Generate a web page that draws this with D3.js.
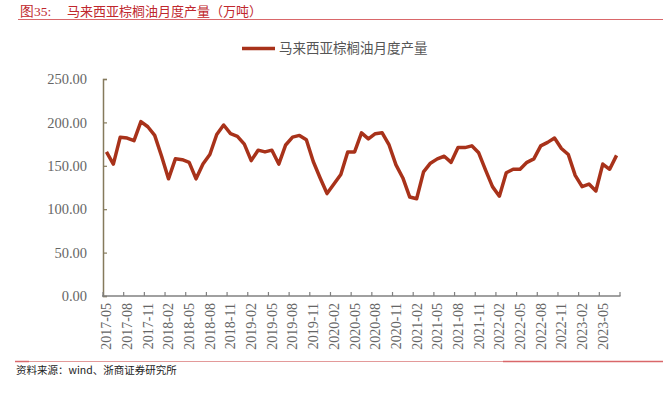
<!DOCTYPE html>
<html><head><meta charset="utf-8">
<script src="https://cdn.jsdelivr.net/npm/d3@7"></script>
<style>
body{margin:0;background:#fff;}
svg{display:block;}
</style></head>
<body>
<svg id="chart" width="663" height="394"></svg>
<script>
const months = [];
(function(){ let y=2017, m=5; for(let i=0;i<75;i++){ months.push(y+"-"+String(m).padStart(2,"0")); m++; if(m>12){m=1;y++;} } })();
const categories = months;
const seriesName = "马来西亚棕榈油月度产量";
const production = [166,152,183,182,179,201,195,185,161,135,158,157,154,135,152,163,186,197,187,
184,175,156,168,166,168,152,174,183,185,180,155,136,118,129,140,166,166,188,
181,187,188,174,151,136,114,112,143,153,158,161,154,171,171,173,165,145,126,
115,142,146,146,154,158,173,177,182,170,163,139,126,129,121,152,146,162];
const yTicks = [0,50,100,150,200,250];
const xLabelEvery = 3;

const svg = d3.select("#chart");
const serif = "'Liberation Serif','Times New Roman',serif";
const cjk = "'Noto Sans CJK SC',sans-serif";

// title
const title = svg.append("text").attr("x",20).attr("y",15.5).attr("fill","#c0272d").style("font-size","13.5px");
title.append("tspan").style("font-family",serif).text("图35:");
title.append("tspan").attr("x",67).style("font-family",cjk).style("font-size","13px").text("马来西亚棕榈油月度产量（万吨）");
svg.append("line").attr("x1",18).attr("x2",663).attr("y1",19.5).attr("y2",19.5).attr("stroke","#d9676a").attr("stroke-width",1);

// footer
svg.append("line").attr("x1",15).attr("x2",663).attr("y1",361.5).attr("y2",361.5).attr("stroke","#e39a9a").attr("stroke-width",1);
svg.append("line").attr("x1",15).attr("x2",29).attr("y1",361.5).attr("y2",361.5).attr("stroke","#d9676a").attr("stroke-width",1.5);
svg.append("line").attr("x1",503).attr("x2",663).attr("y1",361.5).attr("y2",361.5).attr("stroke","#d9676a").attr("stroke-width",1.5);
svg.append("text").attr("x",16).attr("y",374).attr("fill","#222").style("font-family",cjk).style("font-size","10.5px").text("资料来源：wind、浙商证券研究所");

// scales
const x = d3.scaleBand().domain(categories).range([103,620]).padding(0);
const y = d3.scaleLinear().domain([0,250]).range([296,79]);

// y axis
const yAxis = d3.axisLeft(y).tickValues(yTicks).tickFormat(d3.format(".2f")).tickSize(-4).tickPadding(16);
const gy = svg.append("g").attr("transform","translate(103,0)").call(yAxis);
gy.select(".domain").attr("stroke","#857a5c").attr("stroke-width",1.5);
gy.selectAll(".tick line").attr("stroke","#857a5c").attr("stroke-width",1.2);
gy.selectAll(".tick text").attr("fill","#666").style("font-family",serif).style("font-size","14.5px");

// x axis labels
const labelVals = categories.filter((d,i)=>i%xLabelEvery===0);
const xAxis = d3.axisBottom(x).tickValues(labelVals).tickSize(0).tickPadding(0);
const gx = svg.append("g").attr("transform","translate(0,296)").call(xAxis);
gx.select(".domain").remove();
gx.selectAll(".tick text").attr("fill","#666").style("font-family",serif).style("font-size","14px")
  .attr("text-anchor","end").attr("transform","rotate(-90)").attr("x",-7).attr("y",0).attr("dy","0.35em");
// x axis line and boundary ticks
svg.append("line").attr("x1",102).attr("x2",620.5).attr("y1",296).attr("y2",296).attr("stroke","#808080").attr("stroke-width",1.5);
const tickIdx = d3.range(0, categories.length+1, xLabelEvery);
svg.append("g").selectAll("line").data(tickIdx).join("line")
  .attr("x1",i=> i<categories.length ? x(categories[i]) : x.range()[1])
  .attr("x2",i=> i<categories.length ? x(categories[i]) : x.range()[1])
  .attr("y1",296).attr("y2",292).attr("stroke","#808080").attr("stroke-width",1.2);

// line
const lineGen = d3.line().x((d,i)=>x(categories[i])+x.bandwidth()/2).y(d=>y(d));
svg.append("path").datum(production).attr("d",lineGen).attr("fill","none")
  .attr("stroke","#a8321a").attr("stroke-width",3.5).attr("stroke-linejoin","round");

// legend
svg.append("line").attr("x1",242).attr("x2",275).attr("y1",48.5).attr("y2",48.5).attr("stroke","#a8321a").attr("stroke-width",3.5);
svg.append("text").attr("x",279).attr("y",53).attr("fill","#555").style("font-family",cjk).style("font-size","13.5px").text(seriesName);
</script>
</body></html>
